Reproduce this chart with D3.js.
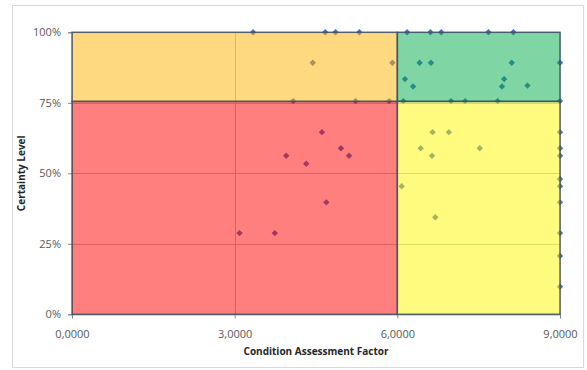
<!DOCTYPE html>
<html><head><meta charset="utf-8">
<script src="https://cdn.jsdelivr.net/npm/d3@7"></script>
<style>html,body{margin:0;padding:0;background:#fff;}svg{display:block;}</style>
</head><body>
<svg id="chart" width="587" height="370"></svg>
<script>
// ---- data ----
const xTicks = [0, 3, 6, 9];
const xTickLabels = ["0,0000", "3,0000", "6,0000", "9,0000"];
const yTicks = [0, 0.25, 0.5, 0.75, 1];
const yTickLabels = ["0%", "25%", "50%", "75%", "100%"];
const xTitle = "Condition Assessment Factor";
const yTitle = "Certainty Level";
// quadrant split values
const xSplit = 6;
const ySplit = 0.755;
const quadNames = ["low-low", "low-high", "high-low", "high-high"];
const quadColors = ["#FF0000", "#FFB300", "#FFF700", "#00AB4A"];
// scatter points
const pointX = [
  3.34, 4.67, 4.86, 5.30, 6.18, 6.61, 6.81, 7.68, 8.14,
  9.0, 9.0, 9.0, 9.0, 9.0, 9.0, 9.0, 9.0, 9.0, 9.0, 9.0,
  4.44, 5.91, 4.08, 5.23, 5.85,
  6.41, 6.62, 8.11, 6.14, 6.29, 7.97, 7.93, 8.40, 6.11, 6.99, 7.25, 7.85,
  4.61, 4.96, 5.11, 3.95, 4.32, 4.69, 3.09, 3.74,
  6.65, 6.95, 6.43, 7.52, 6.64, 6.08, 6.70
];
const pointY = [
  1.0, 1.0, 1.0, 1.0, 1.0, 1.0, 1.0, 1.0, 1.0,
  0.892, 0.756, 0.646, 0.589, 0.562, 0.480, 0.454, 0.397, 0.288, 0.207, 0.098,
  0.892, 0.892, 0.756, 0.756, 0.756,
  0.892, 0.892, 0.892, 0.834, 0.808, 0.834, 0.808, 0.811, 0.756, 0.756, 0.756, 0.756,
  0.646, 0.589, 0.562, 0.562, 0.534, 0.397, 0.288, 0.288,
  0.646, 0.646, 0.589, 0.589, 0.562, 0.454, 0.344
];

// ---- drawing ----
const svg = d3.select("#chart");
const pLeft = 72, pRight = 560, pTop = 32.3, pBottom = 314.3;
const x = d3.scaleLinear().domain([0, 9]).range([pLeft, pRight]);
const y = d3.scaleLinear().domain([0, 1]).range([pBottom, pTop]);
const font = "'Open Sans', 'Liberation Sans', sans-serif";

// outer chart border
svg.append("rect").attr("x", 12.5).attr("y", 5.5).attr("width", 571).attr("height", 362)
  .attr("fill", "#fff").attr("stroke", "#D9D9D9").attr("stroke-width", 1);

// gridlines
const grid = svg.append("g");
grid.selectAll("line.gx").data(xTicks.slice(1)).join("line")
  .attr("x1", d => Math.round(x(d)) + 0.5).attr("x2", d => Math.round(x(d)) + 0.5)
  .attr("y1", y(0)).attr("y2", y(1)).attr("stroke", "#BFBFBF").attr("stroke-width", 1);
grid.selectAll("line.gy").data(yTicks.slice(1)).join("line")
  .attr("y1", d => Math.round(y(d)) + 0.5).attr("y2", d => Math.round(y(d)) + 0.5)
  .attr("x1", x(0)).attr("x2", x(9)).attr("stroke", "#BFBFBF").attr("stroke-width", 1);

// axes
const xAxis = d3.axisBottom(x).tickValues(xTicks).tickFormat((d, i) => xTickLabels[i]).tickSize(4).tickPadding(12);
const yAxis = d3.axisLeft(y).tickValues(yTicks).tickFormat((d, i) => yTickLabels[i]).tickSize(4).tickPadding(7);
const gx = svg.append("g").attr("transform", `translate(0,${pBottom})`).call(xAxis);
const gy = svg.append("g").attr("transform", `translate(${pLeft},0)`).call(yAxis);
[gx, gy].forEach(g => {
  g.select(".domain").attr("stroke", "#868686");
  g.selectAll(".tick line").attr("stroke", "#868686");
  g.selectAll(".tick text").attr("fill", "#595959").style("font-family", font).style("font-size", "11px");
});

// points (blue diamonds), later tinted by translucent quadrants
const diamond = d3.symbol().type(d3.symbolDiamond2 || d3.symbolDiamond).size(26);
svg.append("g").selectAll("path").data(pointX.map((v, i) => [v, pointY[i]])).join("path")
  .attr("d", diamond)
  .attr("transform", d => `translate(${x(d[0])},${y(d[1])})`)
  .attr("fill", "#4472C4");

// quadrants
const quads = [
  {x0: 0, x1: xSplit, y0: 0, y1: ySplit},
  {x0: 0, x1: xSplit, y0: ySplit, y1: 1},
  {x0: xSplit, x1: 9, y0: 0, y1: ySplit},
  {x0: xSplit, x1: 9, y0: ySplit, y1: 1}
];
svg.append("g").selectAll("rect").data(quads).join("rect")
  .attr("class", (d, i) => quadNames[i])
  .attr("x", d => x(d.x0)).attr("y", d => y(d.y1))
  .attr("width", d => x(d.x1) - x(d.x0)).attr("height", d => y(d.y0) - y(d.y1))
  .attr("fill", (d, i) => quadColors[i]).attr("fill-opacity", 0.5)
  .attr("stroke", "#3E4F6B").attr("stroke-width", 1.5).attr("stroke-opacity", 0.85);

// titles
svg.append("text").attr("x", (pLeft + pRight) / 2).attr("y", 355)
  .attr("text-anchor", "middle").attr("fill", "#262626")
  .style("font-family", font).style("font-size", "10px").style("font-weight", "bold").text(xTitle);
svg.append("text").attr("transform", `translate(25,${(pTop + pBottom) / 2}) rotate(-90)`)
  .attr("text-anchor", "middle").attr("fill", "#262626")
  .style("font-family", font).style("font-size", "10px").style("font-weight", "bold").text(yTitle);
</script>
</body></html>
